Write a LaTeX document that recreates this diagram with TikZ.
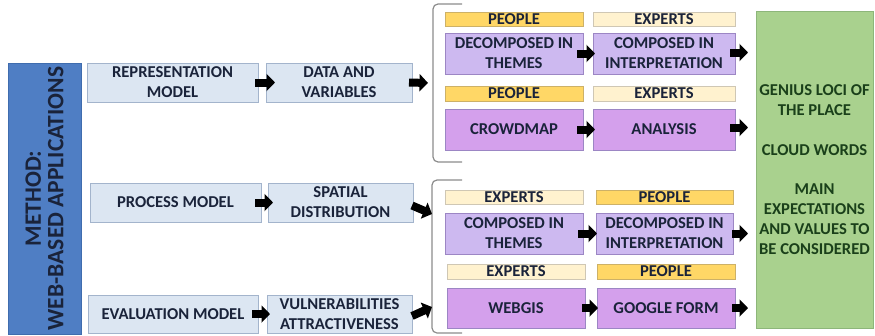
\documentclass[tikz,border=0pt]{standalone}
\usepackage{fontspec}
\setmainfont{Carlito}
\usetikzlibrary{arrows.meta,calc}
\definecolor{bluefill}{HTML}{4F7EC4}
\definecolor{blueedge}{HTML}{3F6CAE}
\definecolor{lbfill}{HTML}{DCE6F2}
\definecolor{lbedge}{HTML}{A3B4CC}
\definecolor{goldfill}{HTML}{FFD766}
\definecolor{goldedge}{HTML}{CDB167}
\definecolor{creamfill}{HTML}{FFF2CF}
\definecolor{creamedge}{HTML}{CFC7B4}
\definecolor{lpfill}{HTML}{CDB9F0}
\definecolor{dpfill}{HTML}{D4A0EC}
\definecolor{pedge}{HTML}{9C86C4}
\definecolor{grfill}{HTML}{A9D18E}
\definecolor{gredge}{HTML}{8DB67A}
\definecolor{txt}{HTML}{1A233A}
\definecolor{grtxt}{HTML}{1A401A}
\definecolor{brk}{HTML}{8C8C8C}
\newcommand\bx[7]{\node[#2, minimum width={#5-#3}, minimum height={#6-#4}] (#1) at ({(#3+#5)/2},{(#4+#6)/2}) {#7};}
\begin{document}
\begin{tikzpicture}[x=1pt,y=-1pt,
  base/.style={draw, line width=0.8pt, inner sep=0pt, outer sep=0pt, align=center, text=txt,
    font=\bfseries\fontsize{16.6}{19.8}\selectfont},
  lb/.style={base, fill=lbfill, draw=lbedge},
  gold/.style={base, fill=goldfill, draw=goldedge},
  cream/.style={base, fill=creamfill, draw=creamedge},
  lp/.style={base, fill=lpfill, draw=pedge},
  dp/.style={base, fill=dpfill, draw=pedge},
  grn/.style={base, fill=grfill, draw=gredge, text=grtxt},
  barrow/.style={line width=8pt, -{Triangle[length=8.5pt,width=17pt]}},
  bracket/.style={draw=brk, line width=1.2pt, rounded corners=5pt}]
\useasboundingbox (0,0) rectangle (875,335);

% left method box
\bx{meth}{base, fill=bluefill, draw=blueedge}{8}{63}{81}{334}{}
\node[rotate=90, align=center, text=txt, font=\bfseries\fontsize{23.5}{22.5}\selectfont] (methtxt) at (meth.center) {METHOD:\\WEB-BASED APPLICATIONS};

% models
\bx{rep}{lb}{87}{63}{258}{102}{REPRESENTATION\\MODEL}
\bx{data}{lb}{266}{63}{412}{102}{DATA AND\\VARIABLES}
\bx{proc}{lb}{90}{183}{261}{222}{PROCESS MODEL}
\bx{spat}{lb}{268}{183}{413}{222}{SPATIAL\\DISTRIBUTION}
\bx{eval}{lb}{88}{295}{258}{333}{EVALUATION MODEL}
\bx{vuln}{lb}{267}{295}{412}{333}{VULNERABILITIES\\ATTRACTIVENESS}

% brackets
\draw[bracket] (462,4) -- (433,4) -- (433,162) -- (462,162);
\draw[bracket] (462,180) -- (432,180) -- (432,333) -- (462,333);
\coordinate (ub) at (428,83);
\coordinate (lb1) at (432,214);
\coordinate (lb2) at (432,307);

% upper group
\bx{p1}{gold}{445}{12}{583}{26}{PEOPLE}
\bx{e1}{cream}{593}{12}{735}{26}{EXPERTS}
\bx{dt}{lp}{445}{33}{583}{74}{DECOMPOSED IN\\THEMES}
\bx{ci}{lp}{593}{33}{735}{74}{COMPOSED IN\\INTERPRETATION}
\bx{p2}{gold}{445}{86}{583}{101}{PEOPLE}
\bx{e2}{cream}{593}{86}{735}{101}{EXPERTS}
\bx{cm}{dp}{445}{109}{583}{150}{CROWDMAP}
\bx{an}{dp}{593}{109}{735}{150}{ANALYSIS}

% lower group
\bx{e3}{cream}{445}{190}{583}{204}{EXPERTS}
\bx{p3}{gold}{596}{190}{733}{204}{PEOPLE}
\bx{ct}{lp}{445}{213}{583}{254}{COMPOSED IN\\THEMES}
\bx{di}{lp}{596}{213}{733}{254}{DECOMPOSED IN\\INTERPRETATION}
\bx{e4}{cream}{447}{264}{585}{279}{EXPERTS}
\bx{p4}{gold}{597}{264}{735}{279}{PEOPLE}
\bx{wg}{dp}{447}{288}{585}{328}{WEBGIS}
\bx{gf}{dp}{597}{288}{735}{328}{GOOGLE FORM}

% green result
\bx{res}{grn}{756}{11}{873}{328}{GENIUS LOCI OF\\THE PLACE\\[19.8pt]CLOUD WORDS\\[19.8pt]MAIN\\EXPECTATIONS\\AND VALUES TO\\BE CONSIDERED}

% arrows
\draw[barrow] ($(rep.east)+(-3,0)$) -- ($(data.west)+(9,0)$);
\draw[barrow] ($(proc.east)+(-6,0)$) -- ($(spat.west)+(5,0)$);
\draw[barrow] ($(eval.east)+(-6,0)$) -- ($(vuln.west)+(3,0)$);
\draw[barrow] ($(data.east)+(-3,0)$) -- (ub);
\draw[barrow] ($(spat.east)+(-1,3)$) -- (lb1);
\draw[barrow] ($(vuln.east)+(0,2)$) -- (lb2);
\draw[barrow] ($(dt.east)+(-6,0)$) -- ($(ci.west)+(2,0)$);
\draw[barrow] ($(cm.east)+(-6,0)$) -- ($(an.west)+(2,0)$);
\draw[barrow] ($(ct.east)+(-5,0)$) -- ($(di.west)+(1,0)$);
\draw[barrow] ($(wg.east)+(-3,0)$) -- ($(gf.west)+(1,0)$);
\coordinate (g1) at ($(res.west |- ci)+(-8,-1)$);
\coordinate (g2) at ($(res.west |- an)+(-8,-2)$);
\coordinate (g3) at ($(res.west |- di)+(-8,0)$);
\coordinate (g4) at ($(res.west |- gf)+(-8,0)$);
\draw[barrow] ($(ci.east)+(-5,-1)$) -- (g1);
\draw[barrow] ($(an.east)+(-5,-2)$) -- (g2);
\draw[barrow] ($(di.east)+(-1,0)$) -- (g3);
\draw[barrow] ($(gf.east)+(-3,0)$) -- (g4);
\end{tikzpicture}
\end{document}
